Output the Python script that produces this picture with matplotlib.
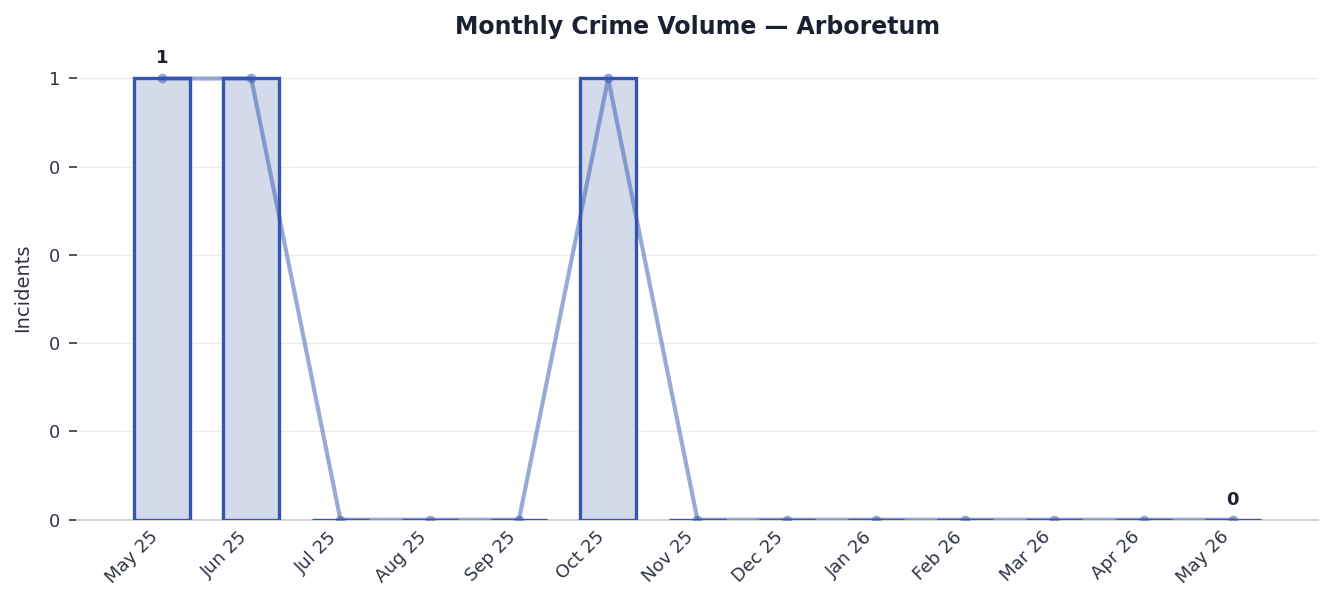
import matplotlib
matplotlib.use("Agg")
import matplotlib.pyplot as plt
from matplotlib.ticker import FuncFormatter, MultipleLocator

months = ["May 25", "Jun 25", "Jul 25", "Aug 25", "Sep 25", "Oct 25", "Nov 25",
          "Dec 25", "Jan 26", "Feb 26", "Mar 26", "Apr 26", "May 26"]
incidents = [1, 1, 0, 0, 0, 1, 0, 0, 0, 0, 0, 0, 0]

BLUE = "#3556b0"
FILL = "#d3dbeb"
TEXT = "#1b2033"
TICK = "#2f3545"

fig = plt.figure(figsize=(13.22, 5.94), dpi=100)
ax = fig.add_axes([0.058, 0.125, 0.9387, 0.78])

x = list(range(len(months)))
ax.bar(x, incidents, width=0.63, color=FILL, edgecolor=BLUE, linewidth=2.4, zorder=3)
ax.plot(x, incidents, color=BLUE, alpha=0.5, linewidth=3, marker="o", markersize=7,
        markeredgewidth=0, zorder=4)

# label the peak and the latest month
peak = incidents.index(max(incidents))
for i in (peak, len(incidents) - 1):
    ax.annotate(f"{incidents[i]}", (x[i], incidents[i]), xytext=(0, 8),
                textcoords="offset points", ha="center", va="bottom",
                fontsize=13, fontweight="bold", color=TEXT)

ax.set_xlim(-0.956, 12.95)
ax.set_ylim(0, 1.05)
ax.set_xticks(x)
ax.set_xticklabels(months, rotation=45, ha="right", fontsize=13, color=TICK)
ax.yaxis.set_major_locator(MultipleLocator(0.2))
ax.yaxis.set_major_formatter(FuncFormatter(lambda v, p: f"{int(v + 1e-9)}"))
ax.tick_params(axis="y", labelsize=13, labelcolor=TICK, length=6, width=1.2,
               color=TICK, pad=6)
ax.tick_params(axis="x", length=0, pad=6)
ax.set_ylabel("Incidents", fontsize=14, color=TICK, labelpad=12)
ax.set_title("Monthly Crime Volume — Arboretum", fontsize=17, fontweight="bold",
             color=TEXT, pad=16)

ax.grid(axis="y", color="#ececf0", linewidth=1, zorder=0)
ax.set_axisbelow(True)
for side in ("top", "right", "left"):
    ax.spines[side].set_visible(False)
ax.spines["bottom"].set_color("#d0d3d8")
ax.spines["bottom"].set_linewidth(1.5)
ax.spines["bottom"].set_zorder(1)

fig.savefig("out.png", dpi=100, facecolor="white")
